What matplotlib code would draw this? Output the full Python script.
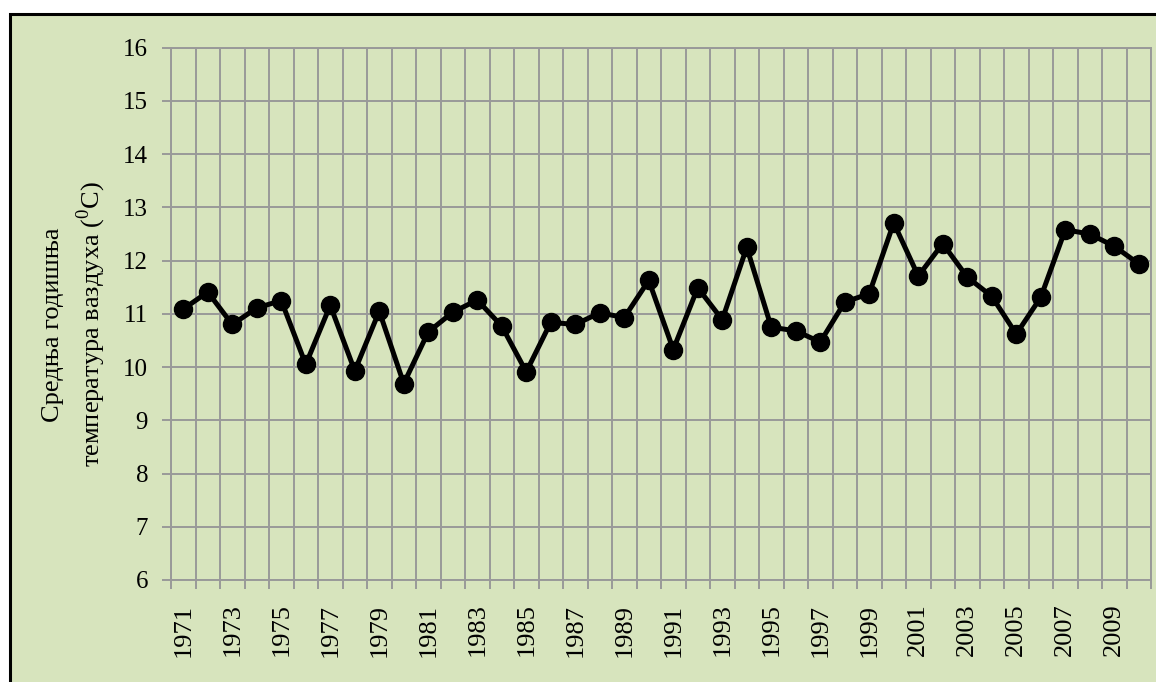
import numpy as np
import matplotlib.pyplot as plt
from matplotlib.patches import Rectangle
from matplotlib.ticker import FixedLocator

plt.rcParams['font.family'] = ['Liberation Serif', 'DejaVu Serif']
plt.rcParams['mathtext.fontset'] = 'custom'
plt.rcParams['mathtext.rm'] = 'Liberation Serif'

# средња годишња температура по годинама
years = list(range(1971, 2011))
temps = [11.09, 11.41, 10.80, 11.11, 11.25, 10.05, 11.16, 9.93, 11.05, 9.69,
         10.66, 11.03, 11.26, 10.77, 9.91, 10.84, 10.80, 11.02, 10.93, 11.63,
         10.33, 11.49, 10.89, 12.25, 10.75, 10.68, 10.47, 11.22, 11.38, 12.71,
         11.71, 12.32, 11.69, 11.33, 10.62, 11.31, 12.58, 12.50, 12.27, 11.94]
label_years = years[::2]
yticks = list(range(6, 17))

green = '#D7E4BD'
gray = '#999999'

fig = plt.figure(figsize=(11.56, 6.82), dpi=100, facecolor='white')
# рамка око графика
fig.patches.append(Rectangle((9.5/1156, -0.05), 1.2, 1.05 - 13.5/682,
                             transform=fig.transFigure, facecolor=green,
                             edgecolor='black', lw=2.2, zorder=-10))

ax = fig.add_axes([171/1156, 1 - 580/682, 980/1156, 532.3/682])
ax.set_facecolor(green)

ax.plot(years, temps, color='black', lw=3.6, marker='o', ms=13, zorder=5)

ax.set_xlim(1970.5, 2010.5)
ax.set_ylim(6, 16)

# вертикалне линије на границама категорија
bounds = np.arange(1970.5, 2011.5, 1)
ax.xaxis.set_minor_locator(FixedLocator(bounds))
ax.set_xticks(label_years)
ax.set_xticklabels([str(y) for y in label_years], rotation=90, fontsize=19)
ax.tick_params(axis='x', which='major', length=0, pad=17)
ax.tick_params(axis='x', which='minor', length=6.5, width=1.4, color=gray)
ax.set_yticks(yticks)
ax.set_yticklabels([str(y) for y in yticks], fontsize=18)
ax.tick_params(axis='y', length=6.5, width=1.4, color=gray, pad=10)

ax.grid(True, axis='x', which='minor', color=gray, lw=1.4)
ax.grid(True, axis='y', which='major', color=gray, lw=1.4)
ax.grid(False, axis='x', which='major')
ax.set_axisbelow(True)
for s in ax.spines.values():
    s.set_color(gray)
    s.set_linewidth(1.4)

ax.set_ylabel('Средња годишња\nтемпература ваздуха ($^{\\mathrm{0}}$C)',
              fontsize=19, linespacing=1.45, multialignment='center')
ax.yaxis.set_label_coords(-0.064, 0.48)

fig.savefig('out.png', dpi=100, facecolor='white')
